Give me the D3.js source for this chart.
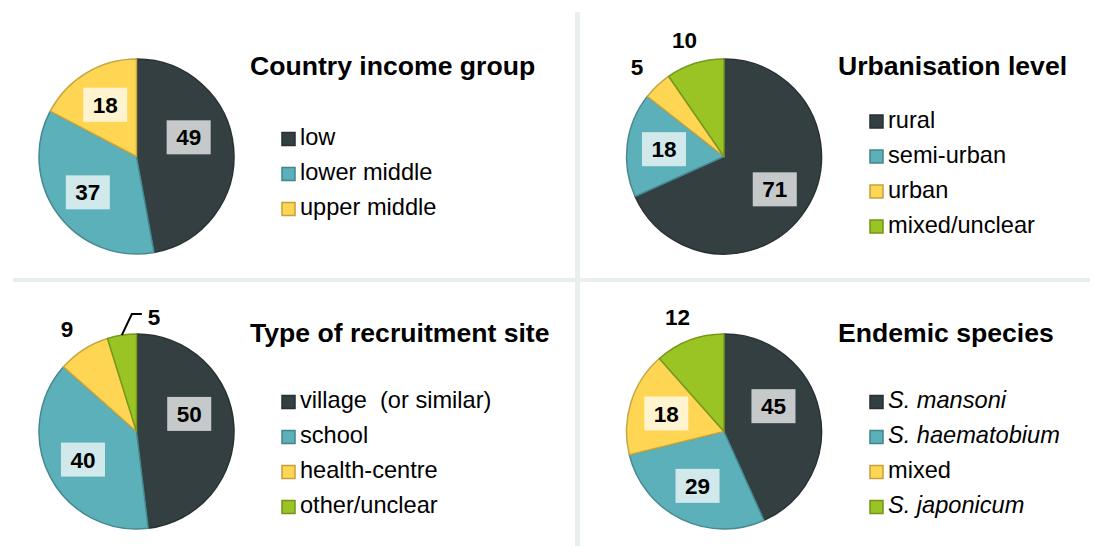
<!doctype html>
<html lang="en">
  <head>
    <meta charset="utf-8">
    <title>study characteristics</title>
    <script src="https://d3js.org/d3.v7.min.js"></script>
    <style>
        body { margin: 0; background: #fff; }
        svg text { font-family: "Liberation Sans", Arial, sans-serif; }
        .title { font-weight: bold; font-size: 26.6px; }
        .leg { font-size: 23.6px; white-space: pre; }
        .val { font-weight: bold; font-size: 22.5px; }
    </style>
  </head>
  <body>
    <svg></svg>
    <script>
      // data
      var incomeCats = ["low", "lower middle", "upper middle"];
      var incomeVals = [49, 37, 18];

      var urbanCats = ["rural", "semi-urban", "urban", "mixed/unclear"];
      var urbanVals = [71, 18, 5, 10];

      var siteCats = ["village  (or similar)", "school", "health-centre", "other/unclear"];
      var siteVals = [50, 40, 9, 5];

      var speciesCats = ["S. mansoni", "S. haematobium", "mixed", "S. japonicum"];
      var speciesVals = [45, 29, 18, 12];

      var titles = ["Country income group", "Urbanisation level", "Type of recruitment site", "Endemic species"];

      var colors = ["#343f42", "#5bb0b9", "#ffd653", "#99c424"];

      var panels = [
        {title: titles[0], cats: incomeCats, vals: incomeVals, col: 0, row: 0},
        {title: titles[1], cats: urbanCats, vals: urbanVals, col: 1, row: 0},
        {title: titles[2], cats: siteCats, vals: siteVals, col: 0, row: 1},
        {title: titles[3], cats: speciesCats, vals: speciesVals, col: 1, row: 1}
      ];

      var svg = d3.select("svg")
        .attr("width", 1094)
        .attr("height", 546);

      // divider lines
      svg.append("line").attr("x1", 577.5).attr("x2", 577.5).attr("y1", 12).attr("y2", 546)
        .attr("stroke", "#e9eeee").attr("stroke-width", 5);
      svg.append("line").attr("x1", 13).attr("x2", 1090).attr("y1", 280).attr("y2", 280)
        .attr("stroke", "#e9eeee").attr("stroke-width", 4);

      var R = 97.5;
      var pieX = [136.5, 724], pieY = [156.5, 431.5];
      var titleX = [250, 838], titleY = [75, 342];
      var legX = [282, 870], legMid = [174, 454.5], legStep = 35, sq = 13;

      var pie = d3.pie().sort(null).value(function(d){ return d.v });
      var arc = d3.arc().innerRadius(0).outerRadius(R);

      function boxFill(c){ return d3.interpolateRgb(c, "#fff")(0.72) }

      panels.forEach(function(p){
        var total = d3.sum(p.vals);
        var data = p.vals.map(function(v, i){ return {v: v, c: p.cats[i], i: i} });
        var g = svg.append("g")
          .attr("transform", "translate(" + pieX[p.col] + "," + pieY[p.row] + ")");

        var arcs = pie(data);

        g.selectAll(".slice").data(arcs).enter()
          .append("path")
          .attr("class", "slice")
          .attr("d", arc)
          .attr("fill", function(d){ return colors[d.data.i] })
          .attr("stroke", function(d){ return d3.color(colors[d.data.i]).darker(0.7) })
          .attr("stroke-width", 1.5)
          .attr("stroke-linejoin", "round");

        arcs.forEach(function(d, k){
          var a = (d.startAngle + d.endAngle) / 2;
          var frac = d.data.v / total;
          if (frac >= 0.15) {
            var r = R * 0.62;
            // labels sitting near 3 o'clock get lifted a bit, like the best-fit placement
            if (a > Math.PI / 3 && a < Math.PI * 0.56) { a -= Math.PI / 12; r = R * 0.57; }
            var x = Math.sin(a) * r, y = -Math.cos(a) * r;
            var t = g.append("text").attr("class", "val")
              .attr("x", x).attr("y", y + 8)
              .attr("text-anchor", "middle")
              .text(d.data.v);
            var w = t.node().getComputedTextLength() + 19;
            g.insert("rect", "text.val")
              .attr("x", x - w / 2).attr("y", y - 17)
              .attr("width", w).attr("height", 34)
              .attr("fill", boxFill(colors[d.data.i]));
          } else if (k == arcs.length - 1 && frac < 0.06) {
            // tiny last slice: label pushed right with a leader
            var x0 = Math.sin(a) * R, y0 = -Math.cos(a) * R;
            var x1 = x0 + 10, y1 = -(R + 20);
            g.append("path")
              .attr("d", d3.line()([[x0, y0], [x1, y1], [x1 + 10, y1]]))
              .attr("fill", "none").attr("stroke", "#000").attr("stroke-width", 2);
            g.append("text").attr("class", "val")
              .attr("x", x1 + 16).attr("y", y1 + 11)
              .text(d.data.v);
          } else {
            var ro = R + 25;
            g.append("text").attr("class", "val")
              .attr("x", Math.sin(a) * ro - 3).attr("y", -Math.cos(a) * ro + 8)
              .attr("text-anchor", "middle")
              .text(d.data.v);
          }
        });

        svg.append("text").attr("class", "title")
          .attr("x", titleX[p.col]).attr("y", titleY[p.row])
          .text(p.title);

        var n = p.cats.length;
        var top = legMid[p.row] - ((n - 1) * legStep + sq) / 2;
        var leg = svg.selectAll(null).data(data).enter()
          .append("g")
          .attr("transform", function(d){ return "translate(" + legX[p.col] + "," + (top + d.i * legStep) + ")" });
        leg.append("rect")
          .attr("width", sq).attr("height", sq)
          .attr("fill", function(d){ return colors[d.i] })
          .attr("stroke", function(d){ return d3.color(colors[d.i]).darker(0.8) })
          .attr("stroke-width", 1.5);
        leg.append("text").attr("class", "leg")
          .attr("x", 18).attr("y", 12.5)
          .style("font-style", function(d){ return /^S\. /.test(d.c) ? "italic" : "normal" })
          .text(function(d){ return d.c });
      });
    </script>
  </body>
</html>
